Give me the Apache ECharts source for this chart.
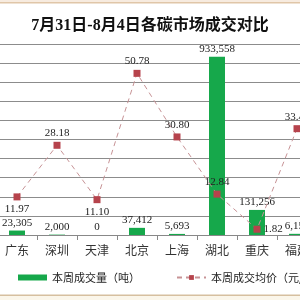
<!DOCTYPE html>
<html>
<head>
<meta charset="utf-8">
<style>html,body{margin:0;padding:0;background:#fff;}#c{width:300px;height:300px;}</style>
<script src="https://cdn.jsdelivr.net/npm/echarts@6/dist/echarts.min.js"></script>
</head>
<body>
<div id="c"></div>
<script>
const titleText = '7月31日-8月4日各碳市场成交对比';
const categories = ['广东', '深圳', '天津', '北京', '上海', '湖北', '重庆', '福建'];
const volume = [23305, 2000, 0, 37412, 5693, 933558, 131256, 6150];
const avgPrice = [11.97, 28.18, 11.10, 50.78, 30.80, 12.84, 1.82, 33.40];
const seriesNames = ['本周成交量（吨）', '本周成交均价（元/吨）'];

const labelPlace = ['bottom', 'top', 'bottom', 'top', 'top', 'top', 'right', 'top'];

const chart = echarts.init(document.getElementById('c'), null, {renderer: 'canvas'});
const serif = '"Liberation Serif","Times New Roman",serif';
chart.setOption({
  animation: false,
  backgroundColor: '#fff',
  title: {
    text: titleText, left: 'center', top: 13,
    textStyle: {fontSize: 16, fontWeight: 'bold', color: '#111', fontFamily: '"Liberation Serif","Noto Sans CJK SC",serif'}
  },
  graphic: [
    {type: 'rect', shape: {x: 0, y: 0, width: 300, height: 2}, style: {fill: '#f7ebdf'}, silent: true},
    {type: 'rect', shape: {x: 0, y: 2, width: 300, height: 1.5}, style: {fill: '#e0c6a8'}, silent: true},
    {type: 'rect', shape: {x: 0, y: 294.5, width: 300, height: 1.5}, style: {fill: '#d6bf9f'}, silent: true},
    {type: 'rect', shape: {x: 0, y: 296, width: 300, height: 4}, style: {fill: '#fbf6ea'}, silent: true}
  ],
  legend: {
    left: 13, top: 267, width: 500, itemGap: 36, itemWidth: 29, itemHeight: 6,
    textStyle: {fontSize: 11, color: '#222', fontFamily: '"Noto Sans CJK SC",sans-serif'},
    data: [
      {name: seriesNames[0], icon: 'rect'},
      {name: seriesNames[1]}
    ]
  },
  grid: {left: -3, width: 320, top: 44, bottom: 65, containLabel: false, outerBoundsMode: 'none'},
  xAxis: {
    type: 'category', data: categories,
    axisLine: {lineStyle: {color: '#888', width: 1}},
    axisTick: {show: true, length: 5, lineStyle: {color: '#888'}},
    axisLabel: {fontSize: 12, color: '#333', margin: 9, fontFamily: '"Noto Sans CJK SC",sans-serif'}
  },
  yAxis: [
    {type: 'value', min: 0, max: 1000000, interval: 100000,
      axisLabel: {show: false}, axisLine: {show: false}, axisTick: {show: false},
      splitLine: {lineStyle: {color: '#8c8c8c', width: 1}}},
    {type: 'value', min: 0, max: 60, interval: 6,
      axisLabel: {show: false}, axisLine: {show: false}, axisTick: {show: false},
      splitLine: {show: false}}
  ],
  series: [
    {
      name: seriesNames[0], type: 'bar', yAxisIndex: 0, data: volume,
      barWidth: 16,
      itemStyle: {color: '#16a84b'},
      label: {show: true, position: 'top', distance: 2, fontSize: 11, color: '#222', fontFamily: serif,
        formatter: p => p.value.toLocaleString('en-US')}
    },
    {
      name: seriesNames[1], type: 'line', yAxisIndex: 1,
      data: avgPrice.map((v, i) => ({value: v, label: {position: labelPlace[i]}})),
      symbol: 'rect', symbolSize: 7,
      lineStyle: {color: '#c79396', width: 1, type: [5, 4]},
      itemStyle: {color: '#b6434c'},
      label: {show: true, fontSize: 11, color: '#222', fontFamily: serif, distance: 3,
        formatter: p => p.value.toFixed(2)}
    }
  ]
});
</script>
</body>
</html>
